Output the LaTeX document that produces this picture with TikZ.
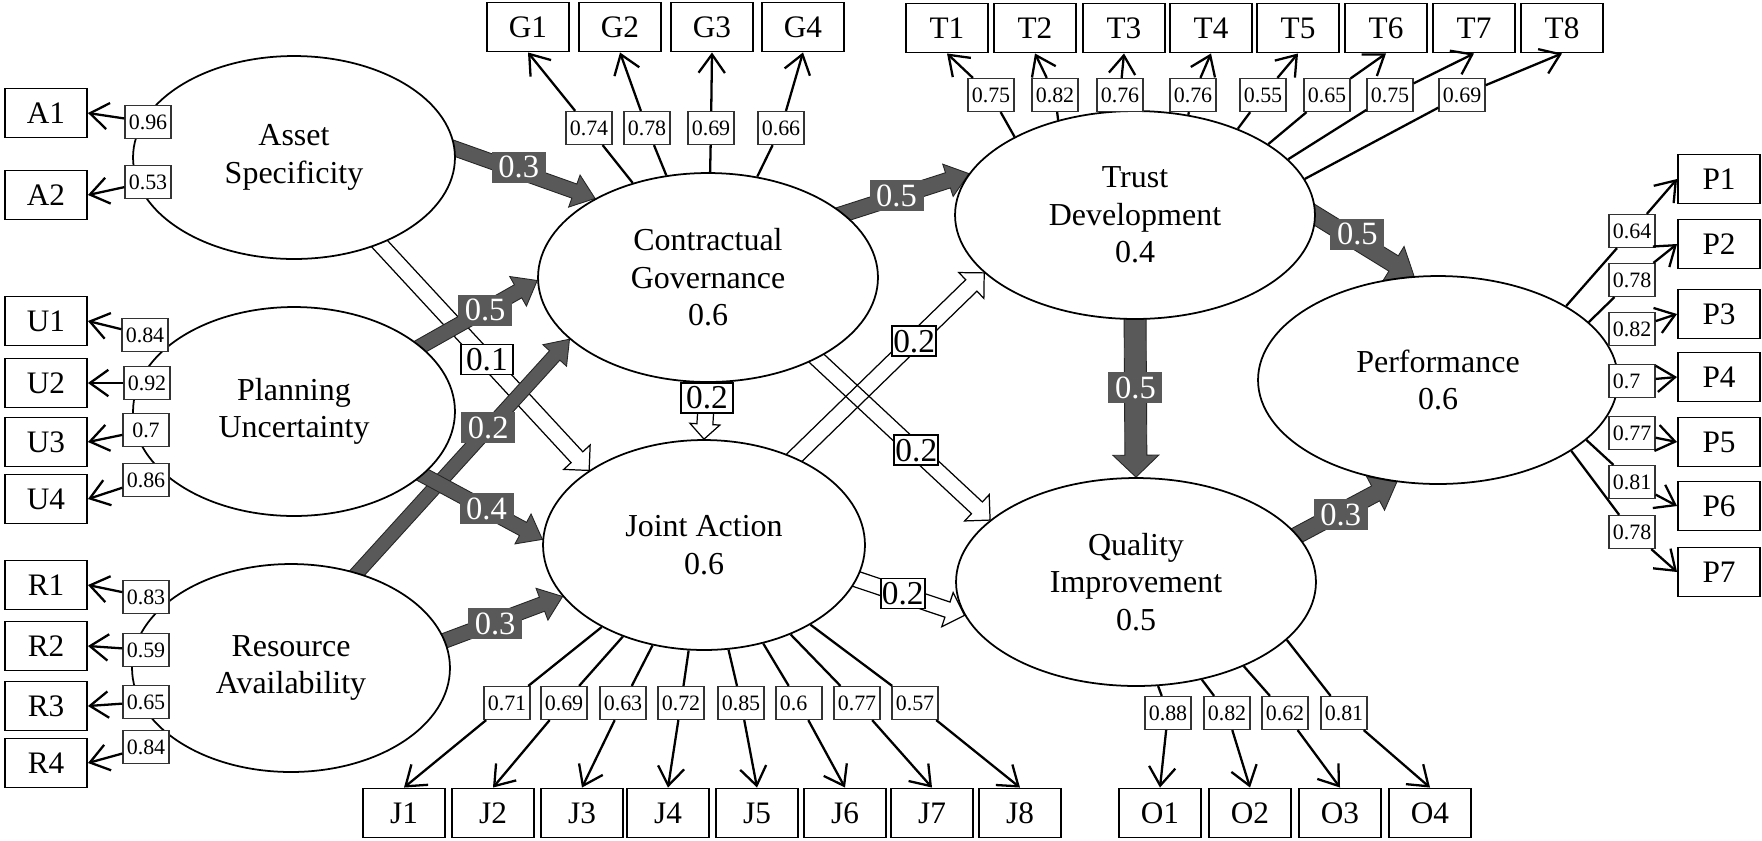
\documentclass[tikz,border=0pt]{standalone}
\usepackage{fontspec}
\setmainfont{Liberation Serif}
\usetikzlibrary{calc,arrows.meta,shapes.geometric}
\pgfdeclarelayer{bg}
\pgfsetlayers{bg,main}

% block arrow polygon: #1 style, #2 tail coord, #3 tip coord, #4 shaft (px), #5 head width (px), #6 head length (px)
\newcommand\blkarrow[6]{%
  \pgfmathsetlengthmacro\bkw{#4*0.01cm}%
  \pgfmathsetlengthmacro\bkh{#5*0.01cm}%
  \pgfmathsetlengthmacro\bkl{#6*0.02cm}%
  \coordinate (bkc) at ($(#3)!\bkl!(#2)$);
  \draw[#1] ($(#2)!\bkw!90:(#3)$) -- ($(bkc)!\bkw!90:(#3)$) -- ($(bkc)!\bkh!90:(#3)$) -- (#3)
     -- ($(bkc)!\bkh!-90:(#3)$) -- ($(bkc)!\bkw!-90:(#3)$) -- ($(#2)!\bkw!-90:(#3)$) -- cycle;
}
% path arrow between ellipses: #1 style, #2 tail node, #3 tail angle, #4 head node, #5 head angle, #6 shaft, #7 head w, #8 head len
\newcommand\patharrow[8]{%
  \coordinate (pat) at ($(#2.center)!0.9!(#2.#3)$);
  \coordinate (patb) at (#2.#3);
  \coordinate (pah) at (#4.#5);
  \begin{pgfonlayer}{bg}\blkarrow{#1}{pat}{pah}{#6}{#7}{#8}\end{pgfonlayer}
}

\begin{document}
\begin{tikzpicture}[x=0.02cm,y=-0.02cm,
  lat/.style={ellipse, draw, line width=1pt, fill=white, inner sep=0pt, align=center,
    font=\fontsize{18.2}{21.3}\selectfont},
  obs/.style={rectangle, draw, line width=1.1pt, fill=white, minimum width=1.64cm,
    minimum height=0.98cm, inner sep=0pt, font=\fontsize{17.8}{20}\selectfont},
  ld/.style={rectangle, draw=black!80, line width=0.7pt, fill=white, minimum width=0.92cm,
    minimum height=0.66cm, inner sep=0pt, font=\fontsize{12.5}{14}\selectfont},
  dlab/.style={rectangle, fill=black!65, text=white, minimum width=1.08cm,
    minimum height=0.62cm, inner sep=0pt, font=\fontsize{18.5}{20}\selectfont},
  hlab/.style={rectangle, draw, line width=1pt, fill=white, minimum width=0.88cm,
    minimum height=0.6cm, inner sep=0pt, font=\fontsize{19}{20}\selectfont},
  ind/.style={line width=1.3pt},
  indar/.style={line width=1.3pt, -{Straight Barb[length=10.5pt,width=15pt]}},
  dark/.style={fill=black!65, draw=black!85, line width=0.5pt},
  hollow/.style={draw=black, line width=0.7pt}]

\useasboundingbox (0,0) rectangle (1762,840);
\begin{pgfonlayer}{bg}\fill[white] (0,0) rectangle (1762,840);\end{pgfonlayer}

% latent variables
\node[lat,minimum width=6.44cm,minimum height=4.06cm] (AS) at (294,157.5) {Asset\\Specificity};
\node[lat,minimum width=6.44cm,minimum height=4.18cm] (PU) at (294,411.5) {Planning\\Uncertainty};
\node[lat,minimum width=6.36cm,minimum height=4.16cm] (RA) at (291,668) {Resource\\Availability};
\node[lat,minimum width=6.8cm,minimum height=4.18cm] (CG) at (708,277.5) {Contractual\\Governance\\0.6};
\node[lat,minimum width=6.44cm,minimum height=4.2cm] (JA) at (704,545) {Joint Action\\0.6};
\node[lat,minimum width=7.2cm,minimum height=4.16cm] (TD) at (1135,215) {Trust\\Development\\0.4};
\node[lat,minimum width=7.2cm,minimum height=4.16cm] (QI) at (1136,582) {Quality\\Improvement\\0.5};
\node[lat,minimum width=7.2cm,minimum height=4.16cm] (PF) at (1438,380) {Performance\\0.6};

% observed boxes
\foreach \n/\y in {A1/113,A2/195,U1/321,U2/383,U3/442,U4/499,R1/585,R2/646,R3/706,R4/763}
  \node[obs] (\n) at (46,\y) {\n};
\foreach \n/\x in {G1/528,G2/620,G3/712,G4/803}
  \node[obs] (\n) at (\x,27) {\n};
\foreach \n/\x in {T1/947,T2/1035,T3/1124,T4/1211,T5/1298,T6/1386,T7/1474,T8/1562}
  \node[obs] (\n) at (\x,28) {\n};
\foreach \n/\y in {P1/179,P2/244,P3/314,P4/377,P5/442,P6/506,P7/572}
  \node[obs] (\n) at (1719,\y) {\n};
\foreach \n/\x in {J1/404,J2/493,J3/582,J4/668,J5/757,J6/845,J7/932,J8/1020}
  \node[obs] (\n) at (\x,813) {\n};
\foreach \n/\x in {O1/1160,O2/1250,O3/1340,O4/1430}
  \node[obs] (\n) at (\x,813) {\n};

% loading labels
\foreach \n/\x/\y/\v in {la1/148/122/0.96,la2/148/182/0.53,lu1/145/335/0.84,lu2/147/383/0.92,
  lu3/146/430/0.7,lu4/146/480/0.86,lr1/146/597/0.83,lr2/146/650/0.59,lr3/146/702/0.65,lr4/146/747/0.84}
  \node[ld] (\n) at (\x,\y) {\v};
\foreach \n/\x/\v in {lg1/589/0.74,lg2/647/0.78,lg3/711/0.69,lg4/781/0.66}
  \node[ld] (\n) at (\x,128) {\v};
\foreach \n/\x/\v in {lt1/991/0.75,lt2/1055/0.82,lt3/1120/0.76,lt4/1193/0.76,lt5/1263/0.55,
  lt6/1327/0.65,lt7/1390/0.75,lt8/1462/0.69}
  \node[ld] (\n) at (\x,95) {\v};
\foreach \n/\x/\v in {lj1/507/0.71,lj2/564/0.69,lj3/623/0.63,lj4/681/0.72,lj5/741/0.85,
  lj6/799/0.6\phantom{0},lj7/857/0.77,lj8/915/0.57}
  \node[ld] (\n) at (\x,703) {\v};
\foreach \n/\x/\v in {lo1/1168/0.88,lo2/1227/0.82,lo3/1285/0.62,lo4/1344/0.81}
  \node[ld] (\n) at (\x,713) {\v};
\foreach \n/\y/\v in {lp1/231/0.64,lp2/280/0.78,lp3/329/0.82,lp4/381/0.7\phantom{0},
  lp5/433/0.77,lp6/482/0.81,lp7/532/0.78}
  \node[ld] (\n) at (1632,\y) {\v};

% indicator connectors
\foreach \l/\b in {la1/A1,la2/A2,lu1/U1,lu2/U2,lu3/U3,lu4/U4,lr1/R1,lr2/R2,lr3/R3,lr4/R4}
  \draw[indar] (\l) -- (\b.east);
\foreach \i in {1,...,4} {
  \draw[ind] (CG) -- (lg\i);
  \draw[indar] (lg\i) -- (G\i.south);
}
\foreach \i/\a in {1/147,2/129,4/62,5/40,6/28,7/20,8/12}
  \draw[ind] (TD.\a) -- (lt\i);
\foreach \i in {1,...,8}
  \draw[indar] (lt\i) -- (T\i.south);
\foreach \i in {1,...,8} {
  \draw[ind] (JA) -- (lj\i);
  \draw[indar] (lj\i) -- (J\i.north);
}
\foreach \i/\a in {1/282,2/304,3/322,4/339} {
  \draw[ind] (QI.\a) -- (lo\i);
  \draw[indar] (lo\i) -- (O\i.north);
}
\foreach \i/\a in {1/30,2/21,6/338,7/332}
  \draw[ind] (PF.\a) -- (lp\i);
\foreach \i in {1,...,7}
  \draw[indar] (lp\i) -- (P\i.west);

% structural paths: non-significant (hollow)
\patharrow{hollow}{AS}{315}{JA}{147}{16}{36}{18}
\node[hlab,minimum width=1.04cm] at ($(patb)!0.51!(pah)$) {0.1};
\patharrow{hollow}{CG}{270}{JA}{90}{16}{30}{15}
\node[hlab,minimum width=1.04cm] at ($(patb)!0.27!(pah)$) {0.2};
\patharrow{hollow}{JA}{44}{TD}{201}{16}{36}{18}
\node[hlab] at ($(patb)!0.63!(pah)$) {0.2};
\patharrow{hollow}{CG}{324}{QI}{157}{16}{36}{18}
\node[hlab] at ($(patb)!0.57!(pah)$) {0.2};
\patharrow{hollow}{JA}{348}{QI}{191}{16}{36}{18}
\node[hlab] at ($(patb)!0.42!(pah)$) {0.2};

% structural paths: significant (dark)
\patharrow{dark}{AS}{6}{CG}{145}{15}{34}{22}
\node[dlab] at ($(patb)!0.46!(pah)$) {0.3};
\patharrow{dark}{PU}{27}{CG}{181}{15}{34}{22}
\node[dlab] at ($(patb)!0.55!(pah)$) {0.5};
\patharrow{dark}{RA}{56}{CG}{204}{14}{32}{22}
\node[dlab] at ($(patb)!0.62!(pah)$) {0.2};
\patharrow{dark}{PU}{334}{JA}{178}{15}{34}{22}
\node[dlab] at ($(patb)!0.53!(pah)$) {0.4};
\patharrow{dark}{RA}{9}{JA}{200}{15}{34}{22}
\node[dlab] at ($(patb)!0.42!(pah)$) {0.3};
\patharrow{dark}{CG}{26}{TD}{166}{16}{34}{22}
\node[dlab] at ($(patb)!0.43!(pah)$) {0.5};
\patharrow{dark}{TD}{4}{PF}{103}{18}{40}{24}
\node[dlab] at ($(patb)!0.43!(pah)$) {0.5};
\patharrow{dark}{TD}{270}{QI}{90}{22}{46}{22}
\node[dlab] at ($(patb)!0.43!(pah)$) {0.5};
\patharrow{dark}{QI}{15}{PF}{248}{17}{38}{24}
\node[dlab] at ($(patb)!0.42!(pah)$) {0.3};

\end{tikzpicture}
\end{document}
